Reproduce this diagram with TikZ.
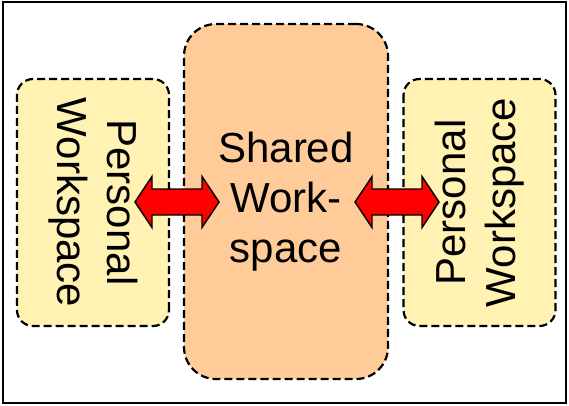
\documentclass[tikz,border=0pt]{standalone}
\usepackage{fontspec}
\setmainfont{Liberation Sans}
\definecolor{yellowbox}{RGB}{255,242,178}
\definecolor{peach}{RGB}{255,204,153}
\begin{document}
\begin{tikzpicture}[x=1pt,y=-1pt,
  area/.style={draw=black, line width=2.2pt, dash pattern=on 8pt off 4pt, inner sep=0pt,
    align=center, font=\fontsize{42}{50}\selectfont},
  personal/.style={area, fill=yellowbox, rounded corners=16pt, minimum width=247pt, minimum height=152pt},
  bigarrow/.style={draw=black, line width=1.4pt, fill=red, line join=miter}
]
\useasboundingbox (0,0) rectangle (569,405);
\draw[line width=1.6pt] (3,2) rectangle (566,403);
\node[personal, rotate=-90] (pl) at (93,202.5) {Personal\\Workspace};
\node[personal, rotate=90] (pr) at (479.5,202.5) {Personal\\Workspace};
\node[area, fill=peach, rounded corners=32pt, minimum width=204pt, minimum height=355pt] (sh) at (286,201.5) {Shared\\Work-\\space};
% double arrows
\newcommand{\dblarrow}[3]{%
  \draw[bigarrow] (#1,#3) -- (#1+17,#3-25.5) -- (#1+17,#3-13) -- (#2-17,#3-13) -- (#2-17,#3-25.5)
   -- (#2,#3) -- (#2-17,#3+25.5) -- (#2-17,#3+13) -- (#1+17,#3+13) -- (#1+17,#3+25.5) -- cycle;}
\dblarrow{135}{219}{202}
\dblarrow{355}{439}{202}
\end{tikzpicture}
\end{document}
